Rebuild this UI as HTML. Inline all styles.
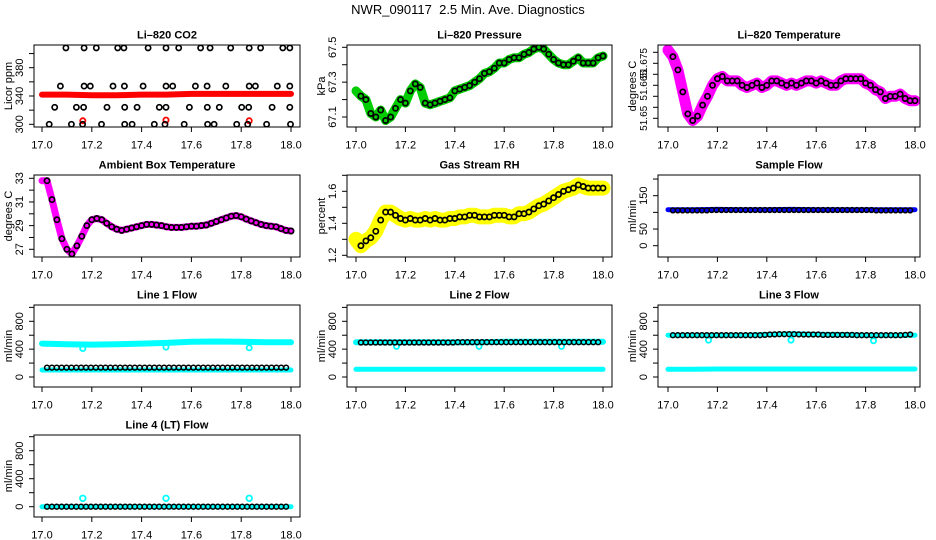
<!DOCTYPE html>
<html><head><meta charset="utf-8"><style>
html,body{margin:0;padding:0;background:#fff;}
svg{display:block;font-family:"Liberation Sans",sans-serif;}
</style></head><body>
<svg id="chart" width="936" height="540" viewBox="0 0 936 540">
<rect width="936" height="540" fill="#fff"/>
<text x="468" y="14" text-anchor="middle" font-size="13">NWR_090117&#160; 2.5 Min. Ave. Diagnostics</text>
</svg>
<script>
// ---- data ----
const xTicks = [17.0, 17.2, 17.4, 17.6, 17.8, 18.0];
const xTickLabels = ["17.0", "17.2", "17.4", "17.6", "17.8", "18.0"];
const co2RedValues = [342, 342, 341, 341, 342, 342, 343, 343, 343, 343, 343];
const co2RedOutX = [17.164, 17.498, 17.832];
const co2RedOutY = [305, 306, 305];
const co2BlackX = [17.096,17.169,17.218,17.304,17.329,17.426,17.498,17.549,17.637,17.675,17.758,17.832,17.878,17.967,17.995,
 17.074,17.169,17.194,17.285,17.331,17.406,17.498,17.525,17.616,17.663,17.738,17.832,17.857,17.945,17.995,
 17.051,17.138,17.167,17.261,17.332,17.382,17.471,17.498,17.592,17.664,17.712,17.802,17.830,17.924,17.995,
 17.029,17.118,17.163,17.239,17.332,17.362,17.451,17.494,17.571,17.665,17.691,17.782,17.826,17.902,17.998];
const co2BlackY = [408,408,408,408,408,408,408,408,408,408,408,408,408,408,408,
 354,354,354,354,354,354,354,354,354,354,354,354,354,354,354,
 324,324,324,324,324,324,324,324,324,324,324,324,324,324,324,
 300,300,300,300,300,300,300,300,300,300,300,300,300,300,300];
const pressureValues = [67.25,67.22,67.20,67.12,67.10,67.14,67.08,67.10,67.15,67.20,67.18,67.25,67.29,67.27,67.18,67.17,67.18,67.19,67.20,67.21,67.25,67.26,67.27,67.28,67.30,67.32,67.35,67.36,67.38,67.41,67.41,67.43,67.44,67.44,67.46,67.47,67.49,67.50,67.49,67.46,67.43,67.41,67.40,67.40,67.42,67.44,67.41,67.41,67.41,67.44,67.45];
const tempValues = [51.681,51.678,51.672,51.662,51.652,51.649,51.651,51.656,51.660,51.665,51.668,51.669,51.667,51.667,51.667,51.665,51.664,51.665,51.666,51.664,51.665,51.667,51.667,51.666,51.665,51.666,51.665,51.666,51.667,51.667,51.666,51.667,51.666,51.665,51.665,51.667,51.668,51.668,51.668,51.668,51.666,51.665,51.663,51.662,51.659,51.660,51.660,51.661,51.659,51.658,51.658];
const ambientValues = [32.8,32.8,31.2,29.5,27.9,27.0,26.6,27.3,28.1,29.0,29.5,29.6,29.5,29.2,28.9,28.7,28.6,28.7,28.8,28.9,29.0,29.1,29.1,29.05,29.0,28.9,28.85,28.85,28.85,28.9,28.95,28.95,29.0,29.05,29.2,29.35,29.5,29.65,29.8,29.85,29.75,29.55,29.4,29.25,29.1,29.0,28.95,28.9,28.75,28.6,28.55];
const rhValues = [1.30,1.26,1.29,1.31,1.35,1.42,1.47,1.47,1.45,1.43,1.42,1.43,1.42,1.42,1.43,1.42,1.43,1.42,1.42,1.43,1.43,1.44,1.44,1.45,1.45,1.44,1.44,1.44,1.45,1.45,1.45,1.44,1.44,1.46,1.46,1.47,1.49,1.51,1.52,1.54,1.56,1.58,1.60,1.61,1.62,1.64,1.63,1.62,1.62,1.62,1.62];
const sampleBlue = [108,108,109,108,108,109,108,108,108,108,108];
const sampleBlack = [106,106,106,106,106,106,106,106,107,107,107,107,107,107,107,107,107,107,107,107,107,107,107,107,107,107,107,107,107,107,107,107,107,107,107,107,107,107,107,107,107,107,106,106,106,106,106,106,106,106];
const line1Upper = [480,470,465,470,480,490,505,510,505,500,500];
const line1Lower = [100,100,100,100,100,100,100,100,100,100,100];
const line1Black = [135,135,135,135,135,135,135,135,135,135,135,135,135,135,135,135,135,135,135,135,135,135,135,135,135,135,135,135,135,135,135,135,135,135,135,135,135,135,135,135,135,135,135,135,135,135,135,135,135,135];
const line2Upper = [500,500,500,500,500,500,505,505,505,505,505];
const line2Lower = [110,110,110,110,110,110,110,110,110,110,110];
const line2Black = [495,495,495,495,495,495,495,495,495,495,495,495,495,495,495,495,495,495,495,495,500,500,500,500,500,500,500,500,500,500,500,500,500,500,500,500,500,500,500,500,500,500,500,500,500,500,500,500,500,500];
const line3Upper = [600,600,600,600,610,620,615,610,600,600,600];
const line3Lower = [110,112,115,115,115,115,115,115,115,115,115];
const line3Black = [600,600,600,600,600,600,600,600,600,600,600,600,600,600,600,600,600,600,600,605,610,612,615,615,615,615,612,610,610,610,610,605,605,605,605,605,605,605,600,600,600,600,600,600,600,600,600,600,605,610];
const line4Cyan = [0,0,0,0,0,0,0,0,0,0,0];
const line4Black = [0,0,0,0,0,0,0,0,0,0,0,0,0,0,0,0,0,0,0,0,0,0,0,0,0,0,0,0,0,0,0,0,0,0,0,0,0,0,0,0,0,0,0,0,0,0,0,0,0,0];
const outX = [17.164, 17.498, 17.832];
const line1Out = [410, 430, 420];
const line2Out = [440, 440, 440];
const line3Out = [530, 530, 520];
const line4Out = [120, 120, 120];
// ---- drawing ----
const NS = "http://www.w3.org/2000/svg";
const svg = document.getElementById("chart");
const cols = [{l:34,r:300,x0:42,x1:291},{l:347,r:612,x0:356,x1:603},{l:658,r:920,x0:668,x1:915}];
const rows = [45,175,305,435];
function mk(tag, attrs, parent){
  const e = document.createElementNS(NS, tag);
  for (const k in attrs) e.setAttribute(k, attrs[k]);
  (parent || svg).appendChild(e);
  return e;
}
function panel(col, row, name, title, ylab, cal, ticks, labels, yfs){
  const c = cols[col], top = rows[row], bot = top + 82;
  const g = mk("g", {});
  
  
  const sx = v => c.x0 + (v - 17) * (c.x1 - c.x0);
  const sy = v => cal[1] + (v - cal[0]) * (cal[3] - cal[1]) / (cal[2] - cal[0]);
  const clipId = "clip-" + name;
  const cp = mk("clipPath", {id: clipId}, g);
  mk("rect", {x:c.l, y:top, width:c.r-c.l, height:bot-top}, cp);
  const plot = mk("g", {"clip-path":"url(#" + clipId + ")"}, g);
  
  
  const box = mk("rect", {x:c.l, y:top, width:c.r-c.l, height:bot-top, fill:"none", stroke:"#000", "stroke-width":1}, g);
  
  
  const t = mk("text", {x:(c.l+c.r)/2, y:top-6.5, "text-anchor":"middle", "font-size":"11", "font-weight":"bold"}, g);
  t.textContent = title;
  
  
  const xa = mk("g", {}, g);
  
  
  mk("line", {x1:sx(xTicks[0]), x2:sx(xTicks[xTicks.length-1]), y1:bot, y2:bot, stroke:"#000"}, xa);
  xTicks.forEach((v, i) => {
    mk("line", {x1:sx(v), x2:sx(v), y1:bot, y2:bot+5, stroke:"#000"}, xa);
    const tl = mk("text", {x:sx(v), y:bot+21.5, "text-anchor":"middle", "font-size":"11"}, xa);
    tl.textContent = xTickLabels[i];
    
    
  });
  const ya = mk("g", {}, g);
  
  
  mk("line", {x1:c.l, x2:c.l, y1:sy(ticks[0]), y2:sy(ticks[ticks.length-1]), stroke:"#000"}, ya);
  ticks.forEach((v, i) => {
    mk("line", {x1:c.l-5, x2:c.l, y1:sy(v), y2:sy(v), stroke:"#000"}, ya);
    if (labels[i]) {
      const yl = mk("text", {x:0, y:0, "text-anchor":"middle", "font-size":(yfs||11), transform:"translate(" + (c.l-11) + "," + sy(v) + ") rotate(-90)"}, ya);
      yl.textContent = labels[i];
      
      
    }
  });
  const yt = mk("text", {x:0, y:0, "text-anchor":"middle", "font-size":"11", transform:"translate(" + (c.l-22) + "," + ((top+bot)/2) + ") rotate(-90)"}, g);
  yt.textContent = ylab;
  
  
  return {sx, sy, plot};
}
function band(p, vals, x0, step, color, w, name){
  const pts = vals.map((v, i) => p.sx(x0 + i*step).toFixed(1) + "," + p.sy(v).toFixed(1)).join(" ");
  const pl = mk("polyline", {points:pts, fill:"none", stroke:color, "stroke-width":w, "stroke-linejoin":"round", "stroke-linecap":"round"}, p.plot);
  
  
}
function dots(p, xs, ys, color, r, sw, name){
  ys.forEach((v, i) => {
    const c = mk("circle", {cx:p.sx(xs[i]).toFixed(1), cy:p.sy(v).toFixed(1), r:r, fill:"none", stroke:color, "stroke-width":sw}, p.plot);
    
    
  });
}
const grid = n => { const a=[]; for (let i=0;i<n;i++) a.push(17 + i/(n-1)); return a; };
const bx = n => { const a=[]; for (let i=0;i<n;i++) a.push(17.02 + i*0.0196); return a; };

// CO2
let p = panel(0,0,"co2","Li\u2013820 CO2","Licor ppm",[300,124.3,380,67.7],[300,320,340,360,380,400],["300","","340","","380",""]);
band(p, co2RedValues, 17, 0.1, "#ff0000", 6, "co2-red-band");
dots(p, co2RedOutX, co2RedOutY, "#ff0000", 2.6, 1.8, "co2-red-point");
dots(p, co2BlackX, co2BlackY, "#000", 2.6, 1.7, "co2-black-point");
// Pressure
p = panel(1,0,"pressure","Li\u2013820 Pressure","kPa",[67.1,117,67.5,47.3],[67.1,67.2,67.3,67.4,67.5],["67.1","","67.3","","67.5"]);
band(p, pressureValues, 17, 0.02, "#00cc00", 9, "pressure-green-band");
dots(p, grid(51), pressureValues, "#00cc00", 3, 2, "pressure-green-point");
dots(p, grid(51).slice(1), pressureValues.slice(1), "#000", 2.6, 1.7, "pressure-black-point");
// Temperature
p = panel(2,0,"li820-temp","Li\u2013820 Temperature","degrees C",[51.65,118.3,51.675,63.3],[51.65,51.655,51.66,51.665,51.67,51.675,51.68],["51.65","","","51.665","","51.675",""],10);
band(p, tempValues, 17, 0.02, "#ff00ff", 11, "temp-magenta-band");
dots(p, grid(51), tempValues, "#ff00ff", 3.5, 2, "temp-magenta-point");
dots(p, grid(51).slice(1), tempValues.slice(1), "#000", 2.6, 1.7, "temp-black-point");
// Ambient
p = panel(0,1,"ambient","Ambient Box Temperature","degrees C",[27,249.3,33,178.3],[27,28,29,30,31,32,33],["27","","29","","31","","33"]);
band(p, ambientValues, 17, 0.02, "#ff00ff", 7, "ambient-magenta-band");
dots(p, grid(51).slice(1), ambientValues.slice(1), "#000", 2.6, 1.7, "ambient-black-point");
// RH
p = panel(1,1,"rh","Gas Stream RH","percent",[1.2,255.3,1.6,191.3],[1.2,1.3,1.4,1.5,1.6,1.7],["1.2","","1.4","","1.6",""]);
band(p, rhValues, 17, 0.02, "#ffff00", 15, "rh-yellow-band");
dots(p, grid(51), rhValues, "#ffff00", 3.5, 2, "rh-yellow-point");
dots(p, grid(51).slice(1), rhValues.slice(1), "#000", 2.6, 1.7, "rh-black-point");
// Sample flow
p = panel(2,1,"sample-flow","Sample Flow","ml/min",[0,245.7,150,195.7],[0,50,100,150,200],["0","50","","150",""]);
band(p, sampleBlue, 17, 0.1, "#0000ff", 5, "sample-blue-band");
dots(p, bx(50), sampleBlack, "#000", 2.4, 1.5, "sample-black-point");
// Line flows
const ft = [0,200,400,600,800,1000], fl = ["0","","400","","800",""];
p = panel(0,2,"line1","Line 1 Flow","ml/min",[0,377,800,321.3],ft,fl);
band(p, line1Upper, 17, 0.1, "#00ffff", 6, "line1-cyan-upper");
band(p, line1Lower, 17, 0.1, "#00ffff", 5, "line1-cyan-lower");
dots(p, outX, line1Out, "#00ffff", 2.6, 1.8, "line1-cyan-outlier");
dots(p, bx(50), line1Black, "#000", 2.4, 1.5, "line1-black-point");
p = panel(1,2,"line2","Line 2 Flow","ml/min",[0,377,800,321.3],ft,fl);
band(p, line2Upper, 17, 0.1, "#00ffff", 6, "line2-cyan-upper");
band(p, line2Lower, 17, 0.1, "#00ffff", 5, "line2-cyan-lower");
dots(p, outX, line2Out, "#00ffff", 2.6, 1.8, "line2-cyan-outlier");
dots(p, bx(50), line2Black, "#000", 2.4, 1.5, "line2-black-point");
p = panel(2,2,"line3","Line 3 Flow","ml/min",[0,377,800,321.3],ft,fl);
band(p, line3Upper, 17, 0.1, "#00ffff", 5, "line3-cyan-upper");
band(p, line3Lower, 17, 0.1, "#00ffff", 5, "line3-cyan-lower");
dots(p, outX, line3Out, "#00ffff", 2.6, 1.8, "line3-cyan-outlier");
dots(p, bx(50), line3Black, "#000", 2.4, 1.5, "line3-black-point");
p = panel(0,3,"line4","Line 4 (LT) Flow","ml/min",[0,506.7,800,450.7],ft,fl);
band(p, line4Cyan, 17, 0.1, "#00ffff", 5, "line4-cyan-band");
dots(p, outX, line4Out, "#00ffff", 2.8, 1.8, "line4-cyan-outlier");
dots(p, bx(50), line4Black, "#000", 2.4, 1.5, "line4-black-point");
</script>
</body></html>
